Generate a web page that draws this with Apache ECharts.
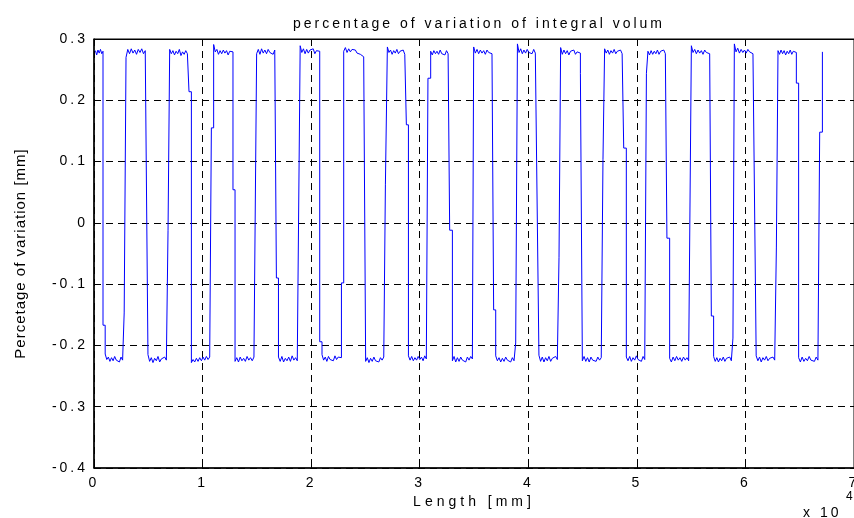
<!DOCTYPE html>
<html>
<head>
<meta charset="utf-8">
<script src="https://cdn.jsdelivr.net/npm/echarts@6/dist/echarts.min.js"></script>
<style>
html,body{margin:0;padding:0;background:#fff;}
#chart{width:854px;height:518px;}
</style>
</head>
<body>
<div id="chart"></div>
<script>
// ---- data (x in mm) ----
const titleText = 'percentage of variation of integral volum';
const xAxisName = 'Length [mm]';
const yAxisName = 'Percetage of variation [mm]';
const xTickLabels = ['0','1','2','3','4','5','6','7'];
const yTickLabels = ['-0.4','-0.3','-0.2','-0.1','0','0.1','0.2','0.3'];

const firstX = 130;
// each switching edge: where it starts, the intermediate sample level (null = none), where it ends
const edgeStart = [830, 2780, 4880, 6820, 8750, 10810, 12800, 14890, 16800, 18880,
  20790, 22790, 24840, 26840, 28770, 30760, 32760, 34850, 36810, 38840,
  40800, 42830, 44800, 46880, 48790, 50880, 52770, 54930, 56860, 58850,
  60850, 62850, 64690, 66840];
const edgeEnd = [1030, 2950, 4970, 6970, 8970, 11020, 12990, 14980, 16990, 18990,
  21000, 23000, 25020, 27020, 28960, 31010, 33010, 34970, 37000, 39000,
  40980, 42980, 44980, 47030, 49030, 51020, 53020, 55020, 57070, 58980,
  60990, 63000, 64900, 67090];
const edgeKink = [-0.167, -0.147, null, -0.012, 0.214, 0.155, 0.054, null, -0.090, null,
  -0.194, -0.098, 0.270, 0.062, 0.160, 0.236, -0.012, null, -0.142, -0.196,
  null, -0.057, 0.244, 0.103, 0.122, 0.244, -0.025, null, -0.152, -0.188,
  null, -0.041, 0.228, 0.148];
// plateau samples (high / low alternating)
const plateauValues = [
  [0.281, 0.274, 0.282, 0.277, 0.283, 0.276, 0.280],
  [-0.214, -0.223, -0.219, -0.226, -0.220, -0.225, -0.218, -0.224, -0.221, -0.227, -0.219, -0.224, -0.222],
  [0.270, 0.283, 0.276, 0.284, 0.277, 0.282, 0.275, 0.283, 0.278, 0.284, 0.276, 0.281, 0.279],
  [-0.215, -0.226, -0.220, -0.228, -0.221, -0.225, -0.218, -0.227, -0.222, -0.225, -0.219, -0.224, -0.222],
  [0.283, 0.276, 0.281, 0.274, 0.280, 0.276, 0.283, 0.273, 0.279, 0.275, 0.281, 0.276, 0.279],
  [-0.228, -0.223, -0.227, -0.221, -0.226, -0.220, -0.225, -0.219, -0.224, -0.218, -0.223, -0.219, -0.221],
  [0.291, 0.279, 0.283, 0.275, 0.281, 0.276, 0.282, 0.277, 0.281, 0.274, 0.280, 0.277, 0.279],
  [-0.226, -0.220, -0.227, -0.219, -0.225, -0.221, -0.226, -0.218, -0.224, -0.220, -0.225, -0.219, -0.222],
  [0.276, 0.283, 0.275, 0.284, 0.277, 0.282, 0.276, 0.283, 0.278, 0.281, 0.275, 0.282, 0.279],
  [-0.219, -0.226, -0.218, -0.227, -0.221, -0.225, -0.219, -0.226, -0.217, -0.224, -0.220, -0.225, -0.222],
  [0.289, 0.278, 0.284, 0.276, 0.283, 0.277, 0.282, 0.279, 0.284, 0.276, 0.281, 0.278, 0.280],
  [-0.215, -0.224, -0.219, -0.226, -0.218, -0.223, -0.220, -0.225, -0.217, -0.223, -0.219, -0.222, -0.220],
  [0.280, 0.286, 0.278, 0.284, 0.279, 0.283, 0.280, 0.282, 0.277, 0.279, 0.275, 0.276, 0.271],
  [-0.226, -0.220, -0.228, -0.221, -0.226, -0.219, -0.225, -0.222, -0.227, -0.220, -0.224, -0.219, -0.221],
  [0.287, 0.278, 0.282, 0.275, 0.281, 0.277, 0.283, 0.276, 0.280, 0.278, 0.282, 0.275, 0.278],
  [-0.217, -0.224, -0.218, -0.225, -0.220, -0.224, -0.218, -0.223, -0.219, -0.225, -0.217, -0.222, -0.220],
  [0.280, 0.274, 0.281, 0.276, 0.280, 0.275, 0.282, 0.276, 0.279, 0.274, 0.281, 0.276, 0.278],
  [-0.225, -0.218, -0.227, -0.220, -0.226, -0.219, -0.224, -0.221, -0.227, -0.219, -0.224, -0.218, -0.222],
  [0.287, 0.277, 0.283, 0.276, 0.282, 0.277, 0.281, 0.275, 0.282, 0.278, 0.281, 0.276, 0.278],
  [-0.217, -0.225, -0.220, -0.227, -0.221, -0.226, -0.219, -0.224, -0.222, -0.227, -0.220, -0.225, -0.222],
  [0.292, 0.278, 0.284, 0.276, 0.282, 0.277, 0.283, 0.278, 0.281, 0.276, 0.283, 0.277, 0.280],
  [-0.216, -0.226, -0.219, -0.227, -0.220, -0.225, -0.218, -0.226, -0.221, -0.224, -0.218, -0.223, -0.221],
  [0.286, 0.275, 0.282, 0.276, 0.281, 0.274, 0.280, 0.277, 0.282, 0.275, 0.279, 0.276, 0.277],
  [-0.225, -0.218, -0.226, -0.220, -0.227, -0.219, -0.224, -0.221, -0.226, -0.219, -0.224, -0.220, -0.222],
  [0.284, 0.277, 0.282, 0.275, 0.281, 0.277, 0.283, 0.276, 0.280, 0.277, 0.282, 0.276, 0.279],
  [-0.219, -0.225, -0.218, -0.226, -0.220, -0.224, -0.217, -0.223, -0.220, -0.226, -0.218, -0.223, -0.221],
  [0.280, 0.274, 0.281, 0.275, 0.280, 0.276, 0.282, 0.275, 0.280, 0.277, 0.282, 0.276, 0.279],
  [-0.221, -0.227, -0.219, -0.225, -0.218, -0.224, -0.220, -0.226, -0.219, -0.224, -0.220, -0.225, -0.222],
  [0.289, 0.278, 0.283, 0.276, 0.282, 0.277, 0.281, 0.275, 0.282, 0.278, 0.281, 0.276, 0.278],
  [-0.218, -0.226, -0.220, -0.227, -0.221, -0.225, -0.219, -0.226, -0.221, -0.224, -0.219, -0.225, -0.222],
  [0.292, 0.279, 0.285, 0.277, 0.283, 0.278, 0.282, 0.277, 0.283, 0.279, 0.281, 0.276, 0.279],
  [-0.217, -0.225, -0.219, -0.227, -0.220, -0.224, -0.218, -0.225, -0.221, -0.224, -0.219, -0.224, -0.221],
  [0.281, 0.275, 0.282, 0.276, 0.281, 0.274, 0.280, 0.276, 0.282, 0.275, 0.280, 0.277, 0.278],
  [-0.220, -0.227, -0.219, -0.226, -0.221, -0.225, -0.218, -0.224, -0.221, -0.226, -0.219, -0.224, -0.222]
];
const finalValue = 0.279;

// ---- build the series from the arrays above ----
const points = [];
for (let i = 0; i < edgeStart.length; i++) {
  const a = i === 0 ? firstX : edgeEnd[i - 1];
  const b = edgeStart[i];
  const vals = plateauValues[i];
  const n = vals.length;
  for (let k = 0; k < n; k++) points.push([a + (b - a) * k / (n - 1), vals[k]]);
  if (edgeKink[i] !== null) {
    points.push([edgeStart[i], edgeKink[i]]);
    points.push([edgeEnd[i], edgeKink[i]]);
  }
}
points.push([edgeEnd[edgeEnd.length - 1], finalValue]);

// MATLAB-like spaced lettering
const origFill = CanvasRenderingContext2D.prototype.fillText;
CanvasRenderingContext2D.prototype.fillText = function (t, x, y, m) {
  const s = String(t);
  let ls = '3px';
  if (s.indexOf('Percetage') === 0) ls = '1px';
  else if (s === xAxisName) ls = '4px';
  const prev = this.letterSpacing;
  try { this.letterSpacing = ls; } catch (e) {}
  if (m === undefined) origFill.call(this, t, x, y); else origFill.call(this, t, x, y, m);
  try { this.letterSpacing = prev; } catch (e) {}
};

const FONT = 'Liberation Sans';
const chart = echarts.init(document.getElementById('chart'), null, { renderer: 'canvas' });
const dash = [7, 5];
chart.setOption({
  animation: false,
  backgroundColor: '#fff',
  title: {
    text: titleText,
    left: 474,
    textAlign: 'center',
    top: 12,
    textStyle: { fontFamily: FONT, fontSize: 14, fontWeight: 'normal', color: '#000' }
  },
  grid: {
    left: 94, right: 0, top: 39, bottom: 50,
    containLabel: false, outerBoundsMode: 'none',
    show: true, borderColor: '#000', borderWidth: 1, backgroundColor: 'transparent'
  },
  xAxis: [{
    type: 'value', min: 0, max: 70000, interval: 10000,
    axisLine: { show: true, onZero: false, lineStyle: { color: '#000', width: 1.5 } },
    axisTick: { show: true, inside: true, length: 5, lineStyle: { color: '#000' } },
    axisLabel: {
      margin: 8, color: '#000', fontFamily: FONT, fontSize: 14,
      formatter: v => xTickLabels[Math.round(v / 10000)]
    },
    splitLine: { show: true, lineStyle: { color: '#000', width: 1, type: dash } },
    name: xAxisName, nameLocation: 'middle', nameGap: 26,
    nameTextStyle: { color: '#000', fontFamily: FONT, fontSize: 14 }
  }, {
    type: 'value', min: 0, max: 70000, interval: 10000, position: 'top',
    axisLine: { show: true, onZero: false, lineStyle: { color: '#000', width: 1 } },
    axisTick: { show: true, inside: true, length: 5, lineStyle: { color: '#000' } },
    axisLabel: { show: false }, splitLine: { show: false }
  }],
  yAxis: {
    type: 'value', min: -0.4, max: 0.3, interval: 0.1,
    axisLine: { show: true, onZero: false, lineStyle: { color: '#000', width: 1.5 } },
    axisTick: { show: true, inside: true, length: 5, lineStyle: { color: '#000' } },
    axisLabel: {
      margin: 6, color: '#000', fontFamily: FONT, fontSize: 14,
      formatter: v => yTickLabels[Math.round((v + 0.4) / 0.1)]
    },
    splitLine: { show: true, lineStyle: { color: '#000', width: 1, type: dash } },
    name: yAxisName, nameLocation: 'middle', nameGap: 66,
    nameTextStyle: { color: '#000', fontFamily: FONT, fontSize: 15 }
  },
  graphic: [
    { type: 'text', left: 803, top: 506, style: { text: 'x 10', fill: '#000', font: '14px "Liberation Sans"' } },
    { type: 'text', left: 846, top: 491, style: { text: '4', fill: '#000', font: '12px "Liberation Sans"' } }
  ],
  series: [{
    type: 'line',
    xAxisIndex: 0,
    data: points,
    showSymbol: false,
    symbol: 'none',
    lineStyle: { color: '#0000ff', width: 1 },
    z: 5
  }]
});
</script>
</body>
</html>
